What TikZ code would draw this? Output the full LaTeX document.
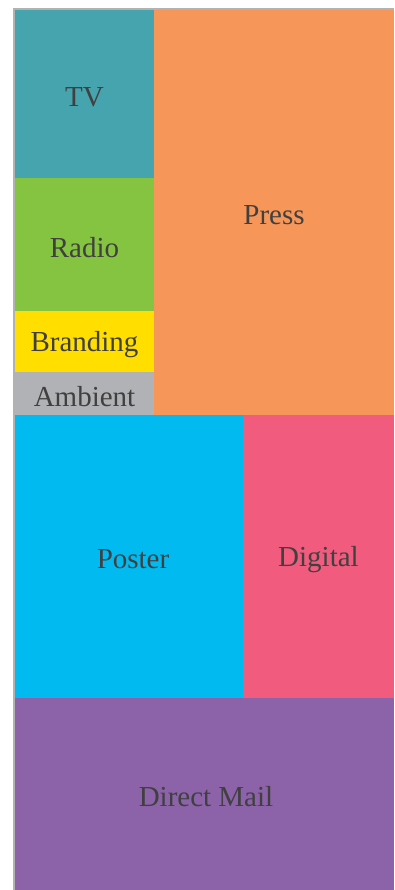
\documentclass[tikz,border=0pt]{standalone}
\usepackage{fontspec}
\setmainfont{Liberation Serif}
\usepackage{tikz}
\usetikzlibrary{positioning}
\definecolor{tvcol}{HTML}{45A4AD}
\definecolor{presscol}{HTML}{F79659}
\definecolor{radiocol}{HTML}{85C441}
\definecolor{brandcol}{HTML}{FFDE00}
\definecolor{ambcol}{HTML}{B1B2B6}
\definecolor{postercol}{HTML}{00BAF0}
\definecolor{digitalcol}{HTML}{F05B7E}
\definecolor{mailcol}{HTML}{8C62A9}
\definecolor{labelcol}{HTML}{404040}
\newcommand{\celllabel}[1]{\raisebox{-3pt}[\height][\depth]{#1}}
\tikzset{
    cell/.style={anchor=north west, inner sep=0pt, outer sep=0pt,
        text=labelcol, font=\fontsize{29}{29}\selectfont},
    frame/.style={draw=black!30, line width=2pt},
}
\begin{document}
\begin{tikzpicture}[x=1pt, y=-1pt]
		\useasboundingbox (0,0) rectangle (394,890);
		% left column of the top block
		\node[cell, fill=tvcol, minimum width=139pt, minimum height=168pt] (tv) at (15,10) {\celllabel{TV}};
		\node[cell, fill=radiocol, minimum width=139pt, minimum height=133pt] (radio) at (15,178) {\celllabel{Radio}};
		\node[cell, fill=brandcol, minimum width=139pt, minimum height=61pt] (branding) at (15,311) {\celllabel{Branding}};
		\node[cell, fill=ambcol, minimum width=139pt, minimum height=43pt] (ambient) at (15,372) {\celllabel{Ambient}};
		\node[cell, fill=presscol, minimum width=240pt, minimum height=405pt] (press) at (154,10) {\celllabel{Press}};
		
		% lower blocks
		\node[cell, fill=postercol, minimum width=228pt, minimum height=283pt] (poster) at (15,415) {\hspace{8pt}\celllabel{Poster}};
		\node[cell, fill=digitalcol, minimum width=151pt, minimum height=283pt] (digital) at (243,415) {\celllabel{Digital}};
		\node[cell, fill=mailcol, minimum width=379pt, minimum height=192pt] (mail) at (15,698) {\hspace{3pt}\celllabel{Direct Mail}};
		
		\coordinate (corner) at (14,9);
		\draw[frame] (corner |- mail.south) -- (corner) -- (corner -| press.east);
\end{tikzpicture}
\end{document}
